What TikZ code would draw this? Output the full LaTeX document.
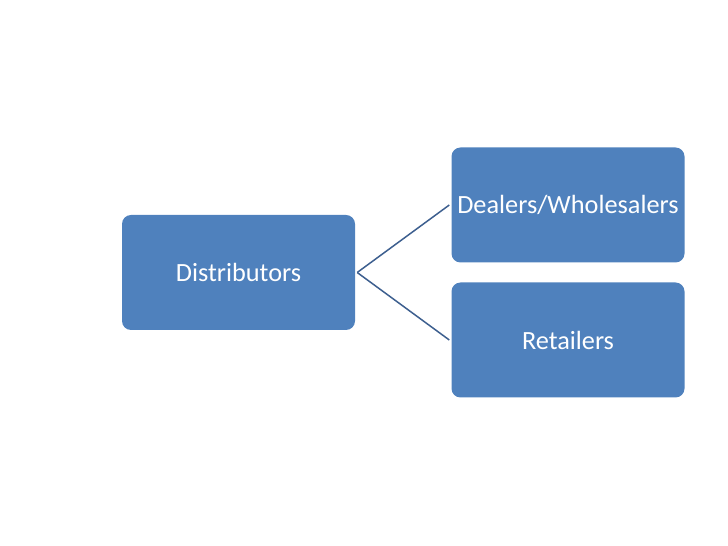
\documentclass[tikz,border=0pt]{standalone}
\usepackage{fontspec}
\setmainfont{Carlito}
\usetikzlibrary{positioning}
\definecolor{boxblue}{HTML}{4F81BD}
\definecolor{linkblue}{HTML}{3D5F8F}

\begin{document}
\begin{tikzpicture}[x=1pt, y=1pt,
    level/.style={draw=none, fill=boxblue, rounded corners=9pt, minimum width=233pt,
        minimum height=115pt, inner sep=0pt, text=white, font=\fontsize{26.3}{30}\selectfont},
    link/.style={draw=linkblue, line width=1.5pt}]
    % Area della pagina
    \useasboundingbox (0,0) rectangle (728,546);
    
    % Riquadri
    \node[level] (dist) at (238.5, 273.5) {Distributors};
    \node[level] (deal) at (568, 341) {Dealers/Wholesalers};
    \node[level] (ret) at (568, 206) {Retailers};
    
    % Collegamenti
    \coordinate (fork) at ([xshift=2pt]dist.east);
    \draw[link] (fork) -- ([xshift=-2pt]deal.west);
    \draw[link] (fork) -- ([xshift=-2pt]ret.west);
\end{tikzpicture}
\end{document}
